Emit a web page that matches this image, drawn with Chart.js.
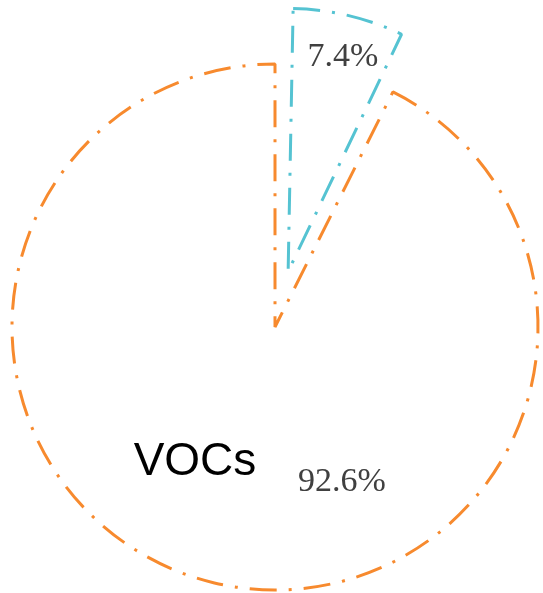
<!DOCTYPE html>
<html>
<head>
<meta charset="utf-8">
<script src="https://cdn.jsdelivr.net/npm/chart.js@4"></script>
<style>
  html, body { margin: 0; padding: 0; background: #fff; }
  #wrap { width: 543px; height: 593px; position: relative; }
</style>
</head>
<body>
<div id="wrap"><canvas id="pie"></canvas></div>
<script>
/* VOCs share pie */
const categories = ['Other', 'VOCs'];
const shares = [7.4, 92.6];
const shareLabels = ['7.4%', '92.6%'];
const lineColors = ['#55c3d2', '#f78a2e'];
// chart.js moves an arc by offset/4, so 228 -> ~57px explode
const sliceOffsets = [228, 0];

// chart.js also grows an exploded arc's radius; undo that so the slice keeps the pie radius
const keepRadius = {
  id: 'keepRadius',
  afterDatasetsUpdate(chart) {
    const meta = chart.getDatasetMeta(0);
    meta.data.forEach((arc, i) => {
      const off = (sliceOffsets[i] || 0) / 4;
      const fix = 1 - Math.sin(Math.min(Math.PI, arc.circumference || 0));
      arc.outerRadius -= off * fix;
    });
  }
};

const textPlugin = {
  id: 'sliceText',
  afterDraw(chart) {
    const ctx = chart.ctx;
    ctx.save();
    ctx.textAlign = 'center';
    ctx.textBaseline = 'alphabetic';
    // percent labels
    ctx.fillStyle = '#404040';
    ctx.font = '34px "Liberation Serif", "Times New Roman", serif';
    ctx.fillText(shareLabels[0], 343, 66);
    ctx.fillText(shareLabels[1], 342, 491);
    // category name
    ctx.fillStyle = '#000';
    ctx.font = '46px "Liberation Sans", Arial, sans-serif';
    ctx.fillText(categories[1], 195, 475);
    ctx.restore();
  }
};

new Chart(document.getElementById('pie'), {
  type: 'pie',
  data: {
    labels: categories,
    datasets: [{
      data: shares,
      backgroundColor: 'rgba(0,0,0,0)',
      borderColor: lineColors,
      borderWidth: 3,
      borderDash: [27, 12, 3, 12],
      offset: sliceOffsets,
      clip: false
    }]
  },
  options: {
    responsive: true,
    maintainAspectRatio: false,
    animation: false,
    radius: 263,
    layout: { padding: { left: 7, right: 0, top: 61, bottom: 0 } },
    plugins: {
      legend: { display: false },
      tooltip: { enabled: false }
    }
  },
  plugins: [keepRadius, textPlugin]
});
</script>
</body>
</html>
